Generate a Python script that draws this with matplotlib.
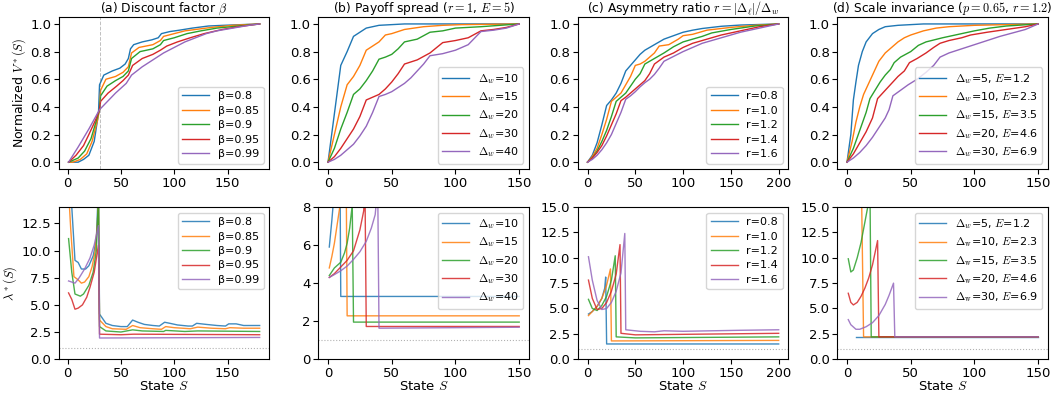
import matplotlib
matplotlib.use("Agg")
import matplotlib.pyplot as plt
from matplotlib.ticker import FormatStrFormatter

plt.rcParams["mathtext.fontset"] = "cm"
plt.rcParams["font.size"] = 9.5

# ---------------- (a) discount factor ----------------
a_labels = ["β=0.8", "β=0.85", "β=0.9", "β=0.95", "β=0.99"]
a_top_x = [
    [1, 10, 15, 20, 25, 29, 30, 34, 42, 49, 54, 57, 59, 62, 70, 79, 85, 88, 96, 105, 117, 132, 146, 180],
    [1, 5, 12, 18, 23, 28, 30, 31, 36, 45, 52, 57, 60, 67, 80, 87, 90, 100, 110, 120, 135, 155, 180],
    [1, 10, 16, 22, 27, 30, 31, 37, 45, 52, 57, 60, 68, 80, 87, 90, 100, 112, 125, 140, 160, 180],
    [1, 8, 15, 20, 26, 30, 31, 38, 46, 52, 57, 61, 70, 80, 87, 93, 103, 115, 128, 145, 160, 180],
    [1, 10, 20, 30, 35, 45, 55, 60, 70, 80, 90, 100, 110, 120, 130, 140, 155, 170, 180],
]
a_top_y = [
    [0, 0.0, 0.02, 0.05, 0.15, 0.35, 0.56, 0.63, 0.66, 0.68, 0.71, 0.75, 0.82, 0.85, 0.87, 0.885, 0.90, 0.93, 0.945, 0.955, 0.97, 0.985, 0.99, 1.0],
    [0, 0.0, 0.02, 0.06, 0.15, 0.30, 0.38, 0.52, 0.60, 0.62, 0.65, 0.69, 0.79, 0.83, 0.85, 0.88, 0.91, 0.93, 0.95, 0.96, 0.975, 0.99, 1.0],
    [0, 0.03, 0.08, 0.17, 0.30, 0.38, 0.48, 0.55, 0.59, 0.62, 0.66, 0.75, 0.80, 0.82, 0.85, 0.88, 0.90, 0.93, 0.95, 0.97, 0.985, 1.0],
    [0, 0.05, 0.12, 0.20, 0.30, 0.38, 0.44, 0.50, 0.55, 0.59, 0.63, 0.70, 0.75, 0.78, 0.81, 0.84, 0.87, 0.90, 0.93, 0.96, 0.98, 1.0],
    [0, 0.11, 0.24, 0.38, 0.42, 0.50, 0.57, 0.63, 0.69, 0.74, 0.79, 0.83, 0.87, 0.90, 0.93, 0.95, 0.97, 0.99, 1.0],
]
a_bot_x = [
    [1, 4, 7, 10, 13, 17, 20, 24, 27, 29, 30, 36, 42, 50, 56, 61, 66, 72, 80, 86, 91, 96, 103, 113, 117, 121, 130, 140, 148, 151, 158, 165, 180],
    [1, 3, 6, 10, 13, 16, 20, 23, 26, 28, 29, 30, 36, 42, 55, 61, 68, 80, 88, 92, 100, 115, 122, 135, 148, 152, 165, 180],
    [1, 4, 7, 12, 15, 20, 24, 27, 29, 30, 36, 50, 61, 70, 90, 92, 110, 122, 180],
    [1, 4, 7, 10, 14, 18, 21, 25, 29, 30, 50, 62, 180],
    [1, 4, 7, 11, 16, 21, 25, 29, 30, 180],
]
a_bot_y = [
    [20, 14, 9.1, 8.9, 8.3, 8.3, 8.6, 9.5, 11.0, 16, 4.15, 3.3, 3.1, 3.0, 3.0, 3.6, 3.4, 3.2, 3.1, 3.05, 3.4, 3.3, 3.15, 3.05, 3.05, 3.3, 3.2, 3.1, 3.05, 3.25, 3.25, 3.1, 3.1],
    [15.5, 12, 7.6, 7.3, 7.0, 7.1, 7.6, 8.5, 10.0, 12.5, 15, 3.6, 3.0, 2.8, 2.75, 3.1, 2.9, 2.8, 2.75, 3.0, 2.9, 2.8, 2.95, 2.85, 2.8, 2.9, 2.85, 2.85],
    [11.1, 8.0, 6.0, 5.8, 6.0, 6.8, 8.0, 10.0, 15, 3.0, 2.6, 2.5, 2.7, 2.6, 2.55, 2.65, 2.55, 2.6, 2.55],
    [6.1, 5.5, 4.6, 4.7, 5.0, 5.7, 6.6, 8.0, 10.5, 2.3, 2.25, 2.3, 2.25],
    [7.2, 7.1, 7.0, 7.5, 8.3, 9.3, 10.5, 12.3, 1.95, 2.0],
]

# ---------------- (b) payoff spread ----------------
b_labels = [r"$\Delta_w$=10", r"$\Delta_w$=15", r"$\Delta_w$=20", r"$\Delta_w$=30", r"$\Delta_w$=40"]
b_top_x = [
    [0, 10, 15, 20, 30, 40, 60, 150],
    [0, 5, 10, 15, 20, 25, 30, 35, 40, 45, 50, 60, 75, 90, 105, 150],
    [0, 5, 10, 15, 20, 25, 30, 35, 40, 45, 50, 55, 60, 70, 80, 90, 100, 120, 150],
    [0, 5, 10, 15, 20, 25, 30, 35, 40, 45, 50, 55, 60, 70, 80, 90, 100, 110, 120, 130, 140, 150],
    [0, 5, 10, 15, 20, 25, 30, 35, 40, 45, 50, 55, 60, 65, 70, 75, 80, 90, 100, 110, 120, 130, 140, 150],
]
b_top_y = [
    [0, 0.70, 0.80, 0.91, 0.97, 0.99, 1.0, 1.0],
    [0, 0.2, 0.4, 0.56, 0.62, 0.70, 0.81, 0.84, 0.87, 0.92, 0.93, 0.96, 0.98, 0.99, 0.995, 1.0],
    [0, 0.10, 0.24, 0.36, 0.49, 0.53, 0.59, 0.66, 0.745, 0.76, 0.78, 0.82, 0.87, 0.89, 0.94, 0.95, 0.97, 0.98, 1.0],
    [0, 0.04, 0.10, 0.17, 0.24, 0.33, 0.45, 0.47, 0.49, 0.53, 0.58, 0.64, 0.71, 0.74, 0.79, 0.865, 0.88, 0.90, 0.95, 0.96, 0.975, 1.0],
    [0, 0.02, 0.05, 0.09, 0.13, 0.19, 0.26, 0.36, 0.475, 0.49, 0.51, 0.54, 0.57, 0.61, 0.66, 0.71, 0.77, 0.785, 0.81, 0.85, 0.945, 0.955, 0.97, 1.0],
]
b_bot_x = [
    [1, 2, 3, 4, 6, 9, 10, 150],
    [1, 3, 5, 7, 9, 10, 14, 15, 150],
    [1, 5, 10, 13, 15, 17, 19, 20, 150],
    [1, 5, 10, 15, 20, 25, 28, 29, 30, 150],
    [1, 5, 10, 15, 20, 25, 30, 34, 37, 39, 40, 150],
]
b_bot_y = [
    [5.9, 6.6, 7.3, 8.1, 10.0, 14.0, 3.3, 3.3],
    [4.8, 5.4, 6.1, 7.0, 7.9, 8.5, 12.0, 2.28, 2.28],
    [4.4, 4.8, 5.1, 5.6, 6.1, 6.9, 8.1, 1.95, 1.95],
    [4.3, 4.5, 4.85, 5.2, 5.7, 6.8, 7.8, 9.0, 1.72, 1.72],
    [4.3, 4.45, 4.65, 4.9, 5.25, 5.65, 6.2, 6.9, 7.6, 9.0, 1.63, 1.68],
]

# ---------------- (c) asymmetry ratio ----------------
c_labels = ["r=0.8", "r=1.0", "r=1.2", "r=1.4", "r=1.6"]
c_top_x = [
    [0, 5, 10, 15, 20, 25, 30, 35, 40, 45, 50, 55, 60, 70, 80, 90, 100, 110, 120, 140, 160, 200],
    [0, 5, 10, 15, 20, 25, 30, 35, 40, 45, 50, 55, 60, 65, 70, 75, 85, 95, 100, 110, 125, 150, 175, 200],
    [0, 5, 10, 15, 20, 25, 30, 35, 40, 45, 50, 55, 60, 65, 70, 80, 90, 100, 110, 120, 130, 150, 175, 200],
    [0, 5, 10, 15, 20, 25, 30, 35, 40, 45, 50, 55, 60, 65, 70, 75, 80, 90, 100, 110, 120, 140, 160, 180, 200],
    [0, 5, 10, 15, 20, 25, 30, 35, 40, 45, 50, 55, 60, 65, 70, 75, 80, 90, 100, 110, 120, 140, 160, 180, 200],
]
c_top_y = [
    [0, 0.05, 0.14, 0.27, 0.41, 0.45, 0.50, 0.57, 0.66, 0.70, 0.74, 0.78, 0.81, 0.85, 0.89, 0.915, 0.94, 0.955, 0.967, 0.983, 0.992, 1.0],
    [0, 0.04, 0.10, 0.20, 0.31, 0.44, 0.47, 0.50, 0.56, 0.62, 0.70, 0.71, 0.73, 0.76, 0.79, 0.84, 0.85, 0.89, 0.915, 0.925, 0.955, 0.975, 0.99, 1.0],
    [0, 0.03, 0.08, 0.15, 0.23, 0.33, 0.44, 0.47, 0.50, 0.55, 0.60, 0.64, 0.71, 0.73, 0.75, 0.79, 0.835, 0.87, 0.89, 0.91, 0.935, 0.96, 0.985, 1.0],
    [0, 0.03, 0.07, 0.12, 0.19, 0.27, 0.35, 0.445, 0.47, 0.50, 0.53, 0.56, 0.59, 0.64, 0.71, 0.735, 0.76, 0.79, 0.83, 0.86, 0.88, 0.92, 0.95, 0.98, 1.0],
    [0, 0.02, 0.05, 0.09, 0.14, 0.20, 0.28, 0.36, 0.455, 0.48, 0.51, 0.545, 0.575, 0.60, 0.635, 0.68, 0.73, 0.765, 0.80, 0.83, 0.86, 0.90, 0.94, 0.97, 1.0],
]
c_bot_x = [
    [1, 5, 10, 15, 18, 19, 20, 200],
    [1, 5, 10, 15, 20, 24, 25, 200],
    [1, 5, 10, 15, 20, 25, 29, 30, 50, 200],
    [1, 5, 10, 15, 20, 25, 30, 34, 35, 50, 100, 200],
    [1, 5, 10, 15, 20, 25, 30, 35, 39, 40, 55, 70, 80, 100, 130, 160, 200],
]
c_bot_y = [
    [4.45, 4.7, 5.2, 6.0, 7.0, 8.1, 1.5, 1.5],
    [4.3, 4.7, 5.2, 6.0, 7.3, 8.9, 1.8, 1.85],
    [5.9, 5.0, 4.8, 5.3, 6.2, 7.8, 10.2, 2.2, 2.1, 2.2],
    [7.8, 6.0, 4.9, 5.0, 5.6, 6.7, 8.4, 11.3, 2.55, 2.4, 2.45, 2.55],
    [10.1, 7.8, 5.8, 4.9, 5.0, 5.6, 6.7, 8.5, 12.4, 2.9, 2.75, 2.7, 2.8, 2.75, 2.8, 2.85, 2.9],
]

# ---------------- (d) scale invariance ----------------
d_top_labels = [r"$\Delta_w$=5, $E$=1.2", r"$\Delta_w$=10, $E$=2.3", r"$\Delta_w$=15, $E$=3.5",
                r"$\Delta_w$=20, $E$=4.6", r"$\Delta_w$=30, $E$=6.9"]
d_bot_labels = [r"$\Delta_w$=5, $E$=1.2", r"$\Delta_\mathrm{w}$=10, $E$=2.3", r"$\Delta_\mathrm{w}$=15, $E$=3.5",
                r"$\Delta_\mathrm{w}$=20, $E$=4.6", r"$\Delta_\mathrm{w}$=30, $E$=6.9"]
d_top_x = [
    [0, 3, 5, 7, 9, 12, 15, 20, 25, 30, 40, 50, 60, 150],
    [0, 4, 7, 10, 13, 16, 20, 25, 30, 35, 40, 45, 50, 60, 70, 80, 100, 150],
    [0, 5, 10, 15, 18, 22, 26, 30, 34, 37, 42, 50, 56, 62, 75, 90, 100, 112, 125, 150],
    [0, 5, 10, 15, 20, 24, 28, 32, 36, 40, 45, 49, 55, 62, 68, 73, 80, 90, 97, 110, 125, 140, 150],
    [0, 5, 10, 15, 20, 25, 30, 33, 36, 42, 48, 55, 62, 68, 73, 80, 90, 100, 110, 120, 130, 140, 150],
]
d_top_y = [
    [0, 0.20, 0.45, 0.58, 0.70, 0.80, 0.87, 0.93, 0.96, 0.98, 0.99, 0.995, 1.0, 1.0],
    [0, 0.15, 0.29, 0.40, 0.49, 0.55, 0.63, 0.73, 0.79, 0.83, 0.87, 0.90, 0.92, 0.95, 0.97, 0.98, 0.99, 1.0],
    [0, 0.10, 0.23, 0.36, 0.46, 0.52, 0.58, 0.63, 0.67, 0.72, 0.76, 0.80, 0.845, 0.87, 0.90, 0.93, 0.95, 0.97, 0.985, 1.0],
    [0, 0.06, 0.14, 0.22, 0.32, 0.46, 0.50, 0.54, 0.58, 0.62, 0.66, 0.72, 0.75, 0.79, 0.83, 0.86, 0.88, 0.90, 0.92, 0.94, 0.96, 0.98, 1.0],
    [0, 0.03, 0.07, 0.12, 0.18, 0.25, 0.32, 0.38, 0.48, 0.52, 0.56, 0.60, 0.65, 0.70, 0.76, 0.79, 0.82, 0.85, 0.88, 0.91, 0.935, 0.96, 1.0],
]
d_bot_x = [
    [7, 150],
    [11, 13, 150],
    [1, 3, 5, 8, 11, 14, 17, 18, 19, 150],
    [1, 3, 5, 8, 11, 14, 17, 20, 24, 25, 150],
    [1, 3, 7, 10, 15, 20, 25, 30, 33, 36.5, 37.5, 150],
]
d_bot_y = [
    [2.2, 2.2],
    [20, 2.2, 2.2],
    [9.9, 8.6, 8.8, 10.0, 11.5, 13.5, 15.5, 17, 2.2, 2.2],
    [6.5, 5.6, 5.35, 5.6, 6.2, 7.0, 8.0, 9.3, 11.7, 2.2, 2.2],
    [3.9, 3.4, 2.95, 2.95, 3.2, 3.6, 4.3, 5.4, 6.3, 7.5, 2.2, 2.2],
]

titles = [r"(a) Discount factor $\beta$",
          r"(b) Payoff spread ($r=1$, $E=5$)",
          r"(c) Asymmetry ratio $r=|\Delta_\ell|/\Delta_w$",
          r"(d) Scale invariance ($p=0.65$, $r=1.2$)"]

top_yticks = [0.0, 0.2, 0.4, 0.6, 0.8, 1.0]
bot_yticks = [
    [0, 2.5, 5.0, 7.5, 10.0, 12.5],
    [0, 2, 4, 6, 8],
    [0, 2.5, 5.0, 7.5, 10.0, 12.5, 15.0],
    [0, 2.5, 5.0, 7.5, 10.0, 12.5, 15.0],
]
bot_fmt = ["%.1f", "%d", "%.1f", "%.1f"]

panels = [
    (a_labels, a_labels, a_top_x, a_top_y, a_bot_x, a_bot_y, (-8, 189), 14, [0, 50, 100, 150]),
    (b_labels, b_labels, b_top_x, b_top_y, b_bot_x, b_bot_y, (-7.5, 157.5), 8, [0, 50, 100, 150]),
    (c_labels, c_labels, c_top_x, c_top_y, c_bot_x, c_bot_y, (-10, 210), 15, [0, 50, 100, 150, 200]),
    (d_top_labels, d_bot_labels, d_top_x, d_top_y, d_bot_x, d_bot_y, (-7.5, 157.5), 15, [0, 50, 100, 150]),
]

colors = plt.rcParams["axes.prop_cycle"].by_key()["color"]

fig, axes = plt.subplots(2, 4, figsize=(10.53, 3.96), dpi=100)
fig.subplots_adjust(left=0.056, right=0.995, top=0.957, bottom=0.093,
                    wspace=0.234, hspace=0.25)

leg_kw = dict(fontsize=8, handlelength=2.4, labelspacing=0.4, borderpad=0.4)

for j, (lab_t, lab_b, tx, ty, bx, by, xlim, ymax, xt) in enumerate(panels):
    ax = axes[0, j]
    for i in range(5):
        ax.plot(tx[i], ty[i], color=colors[i], lw=1.0, label=lab_t[i])
    if j == 0:
        ax.axvline(30, color="gray", ls="--", lw=0.7, alpha=0.5)
        ax.set_ylabel(r"Normalized $V^*(S)$", fontsize=9, labelpad=2)
    ax.set_title(titles[j], fontsize=8.8, pad=3)
    ax.set_xlim(*xlim)
    ax.set_ylim(-0.05, 1.05)
    ax.set_xticks(xt)
    ax.set_yticks(top_yticks)
    ax.yaxis.set_major_formatter(FormatStrFormatter("%.1f"))
    ax.tick_params(labelsize=9.5, pad=2)
    ax.legend(loc="lower right", **leg_kw)

    ax = axes[1, j]
    for i in range(5):
        ax.plot(bx[i], by[i], color=colors[i], lw=1.0, alpha=0.85, label=lab_b[i])
    ax.axhline(1.0, color="gray", ls=":", lw=0.8, alpha=0.6)
    ax.set_xlim(*xlim)
    ax.set_ylim(0, ymax)
    ax.set_xticks(xt)
    ax.set_yticks(bot_yticks[j])
    ax.yaxis.set_major_formatter(FormatStrFormatter(bot_fmt[j]))
    ax.tick_params(labelsize=9.5, pad=2)
    ax.set_xlabel(r"State $S$", fontsize=9.5, labelpad=0)
    if j == 0:
        ax.set_ylabel(r"$\lambda^*(S)$", fontsize=9, labelpad=2)
    ax.legend(loc="upper right", **leg_kw)

fig.savefig("out.png", dpi=100)
